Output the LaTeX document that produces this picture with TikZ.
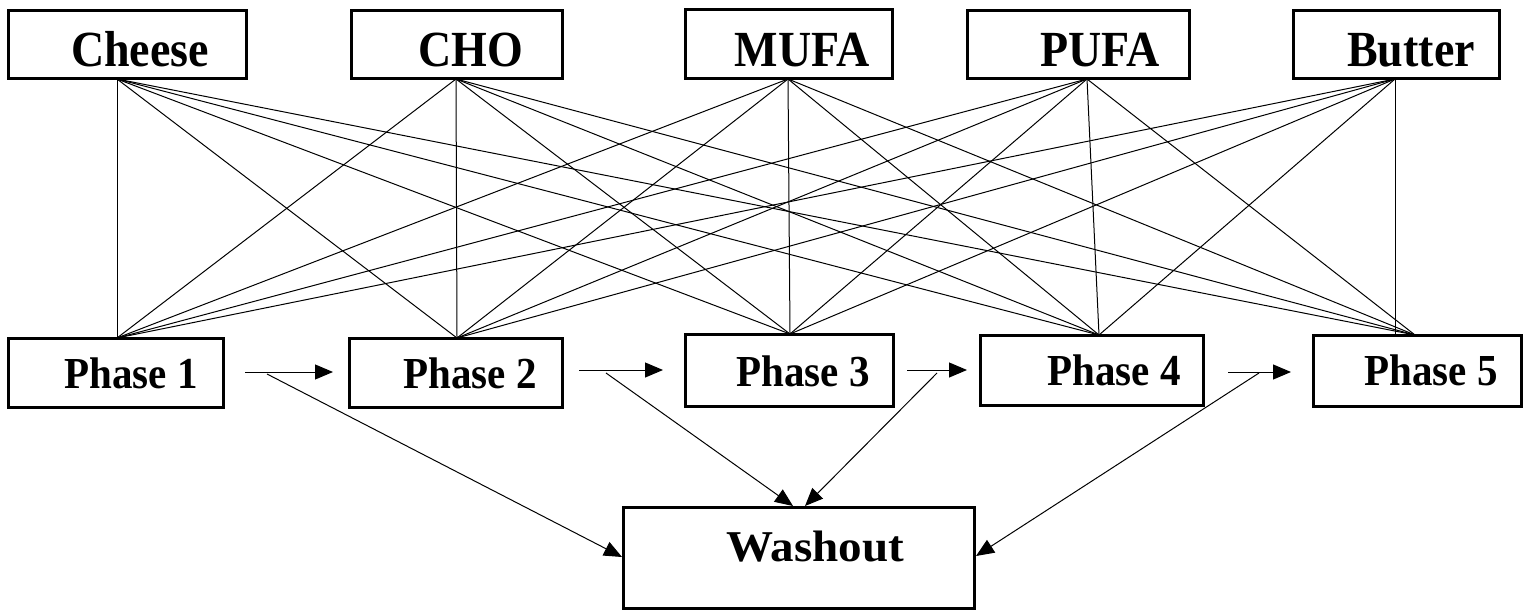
\documentclass[tikz,border=0pt]{standalone}
\usepackage{fontspec}
\usepackage{graphicx}
\setmainfont{Liberation Serif}
\usetikzlibrary{arrows.meta}
\begin{document}
\begin{tikzpicture}[x=1pt,y=-1pt,
  box/.style={draw, line width=3pt, rectangle, inner sep=0pt, outer sep=0pt},
  conn/.style={line width=1pt},
  arr/.style={line width=1pt, -{Triangle[length=18pt,width=15pt]}},
  toplab/.style={font=\fontsize{46}{50}\selectfont\bfseries, anchor=base, inner sep=0pt},
  phlab/.style={font=\fontsize{41}{44}\selectfont\bfseries, anchor=base, inner sep=0pt},
  walab/.style={font=\fontsize{44}{48}\selectfont\bfseries, anchor=base, inner sep=0pt}]
\useasboundingbox (0,0) rectangle (1538,612);
% top boxes
\node[box, minimum width=238pt, minimum height=68pt] (cheese) at (127,45) {};
\node[box, minimum width=211pt, minimum height=68pt] (cho) at (456.5,45) {};
\node[box, minimum width=207pt, minimum height=69pt] (mufa) at (788.5,44.5) {};
\node[box, minimum width=222pt, minimum height=68pt] (pufa) at (1078,45) {};
\node[box, minimum width=206pt, minimum height=68pt] (butter) at (1396,45) {};
\node[toplab] (cheeseT) at (140,67) {\scalebox{1}[1.1]{Cheese}};
\node[toplab] (choT) at (471,67) {\scalebox{1}[1.1]{CHO}};
\node[toplab] (mufaT) at (802,67) {\scalebox{1}[1.1]{MUFA}};
\node[toplab] (pufaT) at (1100,67) {\scalebox{1}[1.1]{PUFA}};
\node[toplab] (butterT) at (1411,67) {\scalebox{1}[1.1]{Butter}};
% phase boxes
\node[box, minimum width=215pt, minimum height=69pt] (p1) at (115.5,372.5) {};
\node[box, minimum width=213pt, minimum height=69pt] (p2) at (455.5,372.5) {};
\node[box, minimum width=208pt, minimum height=72pt] (p3) at (789,370) {};
\node[box, minimum width=223pt, minimum height=70pt] (p4) at (1091.5,370) {};
\node[box, minimum width=208pt, minimum height=71pt] (p5) at (1417,370.5) {};
\node[phlab] (p1T) at (131,388) {\scalebox{1}[1.08]{Phase 1}};
\node[phlab] (p2T) at (470,388) {\scalebox{1}[1.08]{Phase 2}};
\node[phlab] (p3T) at (803,386) {\scalebox{1}[1.08]{Phase 3}};
\node[phlab] (p4T) at (1114,385) {\scalebox{1}[1.08]{Phase 4}};
\node[phlab] (p5T) at (1431,385) {\scalebox{1}[1.08]{Phase 5}};
% washout
\node[box, minimum width=351pt, minimum height=101pt] (wash) at (798.5,557.5) {};
\node[walab] (washT) at (815,561) {\scalebox{1.07}[1]{Washout}};
% connection points
\coordinate (tc1) at (117,79);
\coordinate (tc2) at (456,79);
\coordinate (tc3) at (788,79);
\coordinate (tc4) at (1087,79);
\coordinate (tc5) at (1395,79);
\coordinate (bc1) at (117,338);
\coordinate (bc2) at (457,338);
\coordinate (bc3) at (790,334);
\coordinate (bc4) at (1099,335);
\coordinate (bc5) at (1415,335);
\coordinate (bc5v) at (1395,335);
\foreach \t in {1,2,3,4,5}{
  \foreach \b in {1,2,3,4}{
    \draw[conn] (tc\t) -- (bc\b);
  }
}
\foreach \t in {1,2,3,4}{\draw[conn] (tc\t) -- (bc5);}
\draw[conn] (tc5) -- (bc5v);
% arrows between phases
\coordinate (a1s) at (245,372); \coordinate (a1e) at (333,372);
\coordinate (a2s) at (579,370); \coordinate (a2e) at (663,370);
\coordinate (a3s) at (907,370); \coordinate (a3e) at (967,370);
\coordinate (a4s) at (1228,372); \coordinate (a4e) at (1291,372);
\draw[arr] (a1s) -- (a1e);
\draw[arr] (a2s) -- (a2e);
\draw[arr] (a3s) -- (a3e);
\draw[arr] (a4s) -- (a4e);
% arrows to washout
\coordinate (w1s) at (267,374); \coordinate (w1e) at (622,557);
\coordinate (w2s) at (606,373); \coordinate (w2e) at (793,506);
\coordinate (w3s) at (937,373); \coordinate (w3e) at (805,506);
\coordinate (w4s) at (1259,373); \coordinate (w4e) at (976,556);
\draw[arr] (w1s) -- (w1e);
\draw[arr] (w2s) -- (w2e);
\draw[arr] (w3s) -- (w3e);
\draw[arr] (w4s) -- (w4e);
\end{tikzpicture}
\end{document}
